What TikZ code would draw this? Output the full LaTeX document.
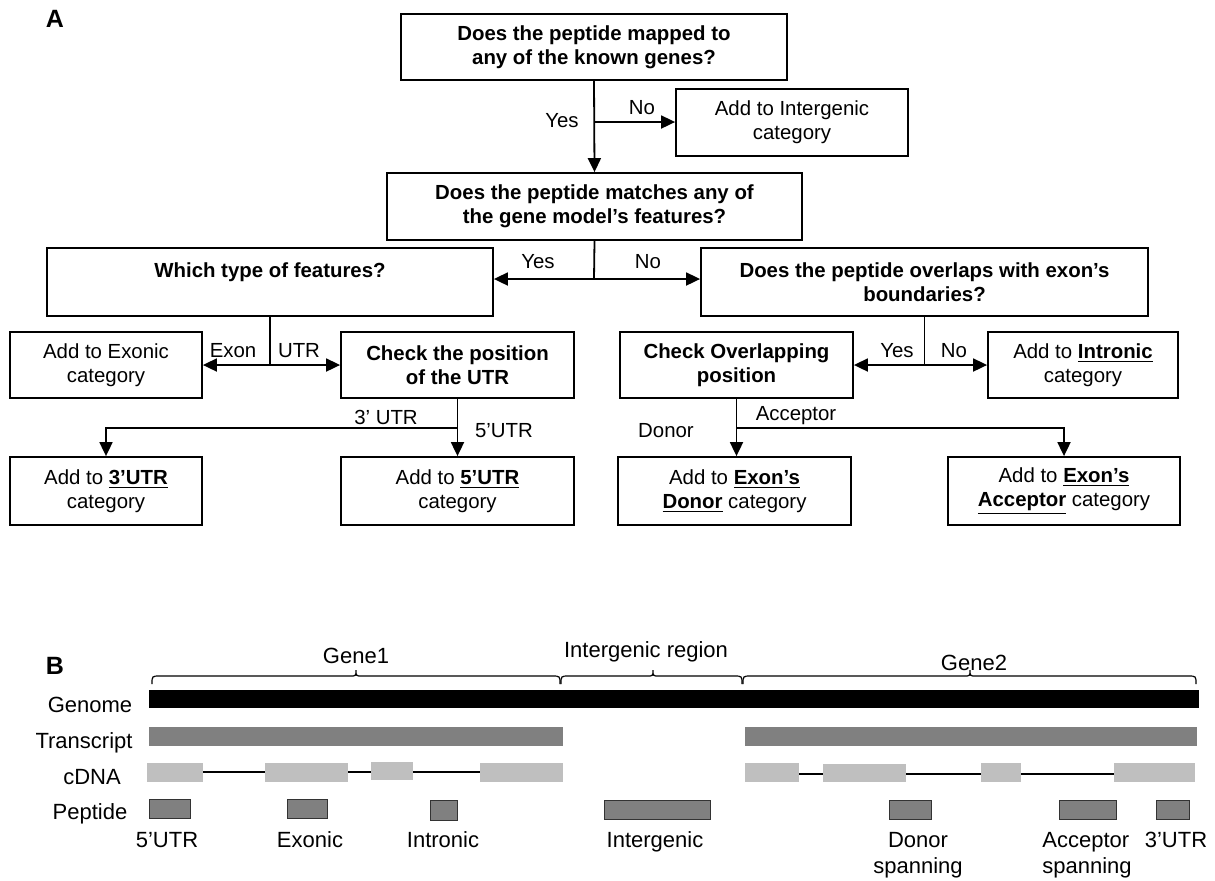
\documentclass[tikz,border=0pt]{standalone}
\usepackage{fontspec}
\setmainfont{Liberation Sans}
\usetikzlibrary{arrows.meta}
\definecolor{trgray}{HTML}{808080}
\definecolor{exgray}{HTML}{BFBFBF}
\newcommand{\ulb}[1]{\underline{\textbf{#1}}}
% brace over a region: left end, right end, middle tick
\newcommand{\genebrace}[3]{%
  \draw[bracel] (#1,684) .. controls (#1,676) .. (#1+8,676) -- (#3-6,676)
    .. controls (#3,676) .. (#3,670) .. controls (#3,676) .. (#3+6,676)
    -- (#2-8,676) .. controls (#2,676) .. (#2,684);}
\tikzset{
  sz/.style 2 args={minimum width=#1*0.5pt, minimum height=#2*0.5pt},
  qbox/.style={draw, line width=0.9pt, align=center, inner sep=0pt,
    font=\fontsize{10.2}{12}\selectfont\bfseries},
  abox/.style={draw, line width=0.9pt, align=center, inner sep=0pt,
    font=\fontsize{10.2}{12}\selectfont},
  lbl/.style={inner sep=0pt, font=\fontsize{10.2}{12}\selectfont},
  blbl/.style={inner sep=0pt, anchor=base, align=center,
    font=\fontsize{11}{13}\selectfont},
  panel/.style={inner sep=0pt, font=\fontsize{12.5}{14}\selectfont\bfseries},
  arr/.style={line width=0.9pt, -{Triangle[length=7pt,width=6.5pt]}},
  ln/.style={line width=0.9pt},
  bracel/.style={line width=0.6pt},
  pep/.style={fill=trgray, draw=black!80, line width=0.5pt},
}
\begin{document}
\begin{tikzpicture}[x=0.5pt,y=-0.5pt]
\useasboundingbox[fill=white] (0,0) rectangle (1215,880);

% ---------------- Panel A: decision flow ----------------
\node[panel] (pA) at (55,19) {A};

\node[qbox, sz={386}{66}] (q1) at (594,47)
  {Does the peptide mapped to\\any of the known genes?};
\node[abox, sz={232}{67}] (inter) at (792,122.5)
  {Add to Intergenic\\category};
\node[qbox, sz={415}{67}] (q2) at (594.5,206.5)
  {Does the peptide matches any of\\the gene model’s features?};
\node[qbox, sz={446}{68}] (q3) at (270,282)
  {Which type of features?\\\mbox{}};
\node[qbox, sz={447}{68}] (q4) at (924.5,282)
  {Does the peptide overlaps with exon’s\\boundaries?};

\node[abox, sz={192}{66}] (exonic) at (106,365) {Add to Exonic\\category};
\node[qbox, sz={233}{66}] (chkutr) at (457.5,365) {Check the position\\of the UTR};
\node[qbox, sz={233}{66}] (chkov) at (736.5,365) {Check Overlapping\\position};
\node[abox, sz={190}{66}] (intronic) at (1083,365) {Add to \ulb{Intronic}\\category};

\node[abox, sz={192}{68}] (utr3) at (106,491) {Add to \ulb{3’UTR}\\category};
\node[abox, sz={233}{68}] (utr5) at (457.5,491) {Add to \ulb{5’UTR}\\category};
\node[abox, sz={233}{68}] (donor) at (734.5,491) {Add to \ulb{Exon’s}\\\ulb{Donor} category};
\node[abox, sz={232}{68}] (acceptor) at (1064,491) {Add to \ulb{Exon’s}\\\ulb{Acceptor} category};

% connectors
\coordinate (j1) at (594,122);
\draw[arr] (q1.south) -- (q2.north);
\draw[arr] (j1) -- (j1 -| inter.west);
\node[lbl] (ly1) at (562,121) {Yes};
\node[lbl] (ln1) at (642,108) {No};

\coordinate (j2) at (594,279);
\draw[ln] (q2.south) -- (j2);
\draw[arr] (j2) -- (j2 -| q3.east);
\draw[arr] (j2) -- (j2 -| q4.west);
\node[lbl] (ly2) at (538,262) {Yes};
\node[lbl] (ln2) at (648,262) {No};

\coordinate (j3) at (q3.south |- exonic.east);
\draw[ln] (q3.south) -- (j3);
\draw[arr] (j3) -- (exonic.east);
\draw[arr] (j3) -- (chkutr.west);
\node[lbl] (lexon) at (233,351) {Exon};
\node[lbl] (lutr) at (299,351) {UTR};

\coordinate (j4) at (q4.south |- chkov.east);
\draw[ln] (q4.south) -- (j4);
\draw[arr] (j4) -- (chkov.east);
\draw[arr] (j4) -- (intronic.west);
\node[lbl] (ly3) at (897,351) {Yes};
\node[lbl] (ln3) at (954,351) {No};

\coordinate (j5) at (chkutr.south |- 0,428);
\draw[arr] (chkutr.south) -- (utr5.north);
\draw[arr] (j5) -- (j5 -| utr3.north) -- (utr3.north);
\node[lbl] (l3) at (386,417) {3’ UTR};
\node[lbl] (l5) at (504,431) {5’UTR};

\coordinate (j6) at (chkov.south |- 0,428);
\draw[arr] (chkov.south) -- (chkov.south |- donor.north);
\draw[arr] (j6) -- (j6 -| acceptor.north) -- (acceptor.north);
\node[lbl] (lacc) at (796,416) {Acceptor};
\node[lbl] (ldon) at (666,431) {Donor};

% ---------------- Panel B: genome layout ----------------
\node[panel] (pB) at (55,666) {B};

\genebrace{152}{560}{356}
\genebrace{561}{742}{653}
\genebrace{743}{1196}{970}
\node[blbl] (g1) at (356,663) {Gene1};
\node[blbl] (ig) at (646,657) {Intergenic region};
\node[blbl] (g2) at (974,670) {Gene2};

\node[blbl] (rgen) at (90,712) {Genome};
\node[blbl] (rtr) at (84,748) {Transcript};
\node[blbl] (rcd) at (92,784) {cDNA};
\node[blbl] (rpep) at (90,819) {Peptide};

% genome and transcripts
\fill[black] (149,690) rectangle (1199,708);
\fill[trgray] (149,727) rectangle (563,746);
\fill[trgray] (745,727) rectangle (1197,746);

% cDNA: introns then exons
\draw[line width=0.6pt] (203,772) -- (480,772);
\draw[line width=0.6pt] (799,774) -- (1114,774);
\fill[exgray] (147,763) rectangle (203,782);
\fill[exgray] (265,763) rectangle (348,782);
\fill[exgray] (371,762) rectangle (413,780);
\fill[exgray] (480,763) rectangle (563,782);
\fill[exgray] (745,763) rectangle (799,782);
\fill[exgray] (823,764) rectangle (906,782);
\fill[exgray] (981,763) rectangle (1021,782);
\fill[exgray] (1114,763) rectangle (1195,782);

% peptides
\draw[pep] (149,799) rectangle (190,818);
\draw[pep] (287,799) rectangle (327,818);
\draw[pep] (430,800) rectangle (457,820);
\draw[pep] (604,800) rectangle (710,819);
\draw[pep] (889,800) rectangle (931,819);
\draw[pep] (1059,800) rectangle (1116,819);
\draw[pep] (1156,800) rectangle (1189,819);

\node[blbl] (p1) at (167,847) {5’UTR};
\node[blbl] (p2) at (310,847) {Exonic};
\node[blbl] (p3) at (443,847) {Intronic};
\node[blbl] (p4) at (655,847) {Intergenic};
\node[blbl] (p5) at (918,847) {Donor};
\node[blbl] (p5b) at (918,873) {spanning};
\node[blbl, anchor=base west] (p6) at (1042,847) {Acceptor};
\node[blbl, anchor=base west] (p6b) at (1042,873) {spanning};
\node[blbl] (p7) at (1176,847) {3’UTR};
\end{tikzpicture}
\end{document}
